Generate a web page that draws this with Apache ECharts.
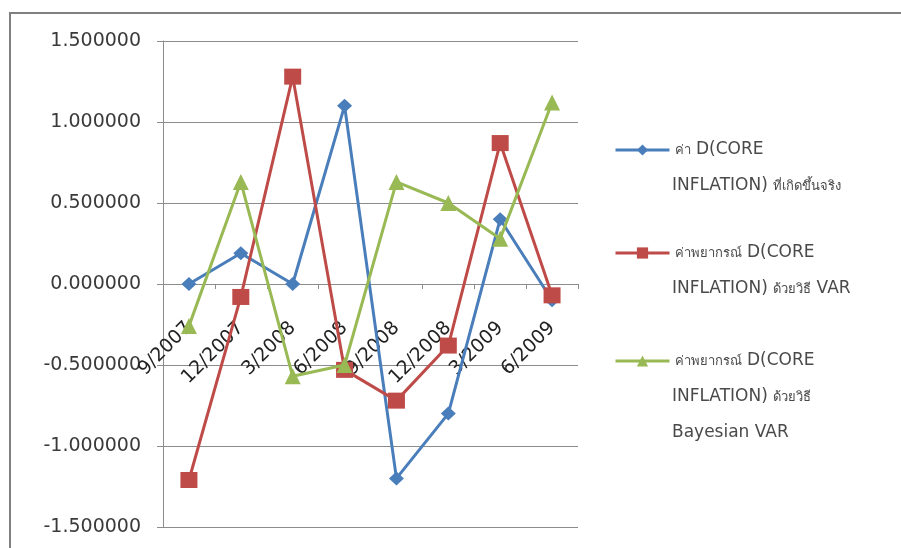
<!DOCTYPE html>
<html>
<head>
<meta charset="utf-8">
<script src="https://cdn.jsdelivr.net/npm/echarts@6/dist/echarts.min.js"></script>
<style>
  html, body { margin: 0; padding: 0; background: #fff; }
  #chart { width: 901px; height: 548px; }
</style>
</head>
<body>
<div id="chart"></div>
<script>
// Quarterly periods
const quarters = ['9/2007', '12/2007', '3/2008', '6/2008', '9/2008', '12/2008', '3/2009', '6/2009'];

// Actual D(CORE INFLATION)
const actualValues = [0.00, 0.19, 0.00, 1.10, -1.20, -0.80, 0.40, -0.10];
// Forecast by VAR
const varValues = [-1.21, -0.08, 1.28, -0.53, -0.72, -0.38, 0.87, -0.07];
// Forecast by Bayesian VAR
const bvarValues = [-0.26, 0.63, -0.57, -0.50, 0.63, 0.50, 0.28, 1.12];

// Y axis tick range
const yMin = -1.5, yMax = 1.5, yStep = 0.5;

// Legend text: each line is a list of [text, isThai] pieces
const legendLines = [
  [[['ค่า', 1], [' D(CORE', 0]], [['INFLATION) ', 0], ['ที่เกิดขึ้นจริง', 1]]],
  [[['ค่าพยากรณ์', 1], [' D(CORE', 0]], [['INFLATION) ', 0], ['ด้วยวิธี', 1], [' VAR', 0]]],
  [[['ค่าพยากรณ์', 1], [' D(CORE', 0]], [['INFLATION) ', 0], ['ด้วยวิธี', 1]], [['Bayesian VAR', 0]]]
];
const plain = line => line.map(p => p[0]).join('');
const richLine = line => line.map(p => '{' + (p[1] ? 'th' : 'la') + '|' + p[0] + '}').join('');
const seriesNames = legendLines.map(l => l.map(plain).join(' '));

const colors = ['#4a7ebb', '#be4b48', '#98b954'];
const symbols = ['diamond', 'rect', 'triangle'];
const symbolSizes = [[15, 14], [17, 16], 16];
const FONT = '"DejaVu Sans", "Noto Sans", sans-serif';
const THAI_FONT = '"Noto Sans", sans-serif';
const TEXT_COLOR = '#4a4a4a';
const LATIN_SIZE = 17, THAI_SIZE = 13;

// rich styles for the legend component (component text style keys)
const legendRich = {
  la: { fontFamily: FONT, fontSize: LATIN_SIZE, color: TEXT_COLOR },
  th: { fontFamily: THAI_FONT, fontSize: THAI_SIZE, color: TEXT_COLOR }
};
// rich styles for graphic text elements (zrender style keys)
const graphicRich = {
  la: { fontFamily: FONT, fontSize: LATIN_SIZE, fill: TEXT_COLOR },
  th: { fontFamily: THAI_FONT, fontSize: THAI_SIZE, fill: TEXT_COLOR }
};

const chart = echarts.init(document.getElementById('chart'));

// Legend block layout
const legendCenters = [150, 253, 361];
const lineGap = 36;
const itemH = 14;

const legends = seriesNames.map((name, i) => ({
  data: [name],
  left: 614,
  top: legendCenters[i] - 10,
  orient: 'vertical',
  itemWidth: 54,
  itemHeight: itemH,
  itemGap: 3,
  padding: 0,
  selectedMode: false,
  lineStyle: { width: 3 },
  formatter: () => richLine(legendLines[i][0]),
  textStyle: { rich: legendRich, height: 20, lineHeight: 20 }
}));

const extraText = [];
legendLines.forEach((lines, i) => {
  lines.slice(1).forEach((line, k) => {
    extraText.push({
      type: 'text',
      x: 672,
      y: legendCenters[i] + lineGap * (k + 1),
      style: {
        text: richLine(line),
        rich: graphicRich,
        verticalAlign: 'middle',
        align: 'left'
      }
    });
  });
});

const gridTop = 41, gridBottom = 21;
const plotH = 548 - gridTop - gridBottom;
// distance from the bottom edge of the plot up to the zero line
const zeroOffset = plotH * (0 - yMin) / (yMax - yMin);

chart.setOption({
  animation: false,
  color: colors,
  grid: {
    left: 163, right: 323, top: gridTop, bottom: gridBottom,
    containLabel: false, outerBoundsMode: 'none'
  },
  legend: legends,
  graphic: [
    {
      type: 'rect',
      shape: { x: 10, y: 13, width: 905, height: 560 },
      style: { fill: 'none', stroke: '#808080', lineWidth: 2 },
      z: -1
    }
  ].concat(extraText),
  xAxis: {
    type: 'category',
    data: quarters,
    boundaryGap: true,
    position: 'bottom',
    offset: -zeroOffset,
    axisLine: { onZero: false, lineStyle: { color: '#8c8c8c', width: 1 } },
    axisTick: { show: true, length: 5, lineStyle: { color: '#8c8c8c' } },
    axisLabel: {
      rotate: 45, margin: 41, interval: 0,
      padding: [12, 0, 0, 0],
      fontFamily: FONT, fontSize: 19, color: '#222'
    },
    splitLine: { show: false }
  },
  yAxis: {
    type: 'value',
    min: yMin, max: yMax, interval: yStep,
    axisLine: { show: true, lineStyle: { color: '#8c8c8c', width: 1 } },
    axisTick: { show: true, length: 6, lineStyle: { color: '#8c8c8c' } },
    axisLabel: {
      margin: 22,
      fontFamily: FONT, fontSize: 19, color: '#3a3a3a',
      formatter: v => v.toFixed(6)
    },
    splitLine: { show: true, lineStyle: { color: '#8c8c8c', width: 1 } }
  },
  series: [actualValues, varValues, bvarValues].map((vals, i) => ({
    name: seriesNames[i],
    type: 'line',
    data: vals,
    symbol: symbols[i],
    symbolSize: symbolSizes[i],
    lineStyle: { width: 3, color: colors[i] },
    itemStyle: { color: colors[i] },
    z: 3 + i
  }))
});
</script>
</body>
</html>
